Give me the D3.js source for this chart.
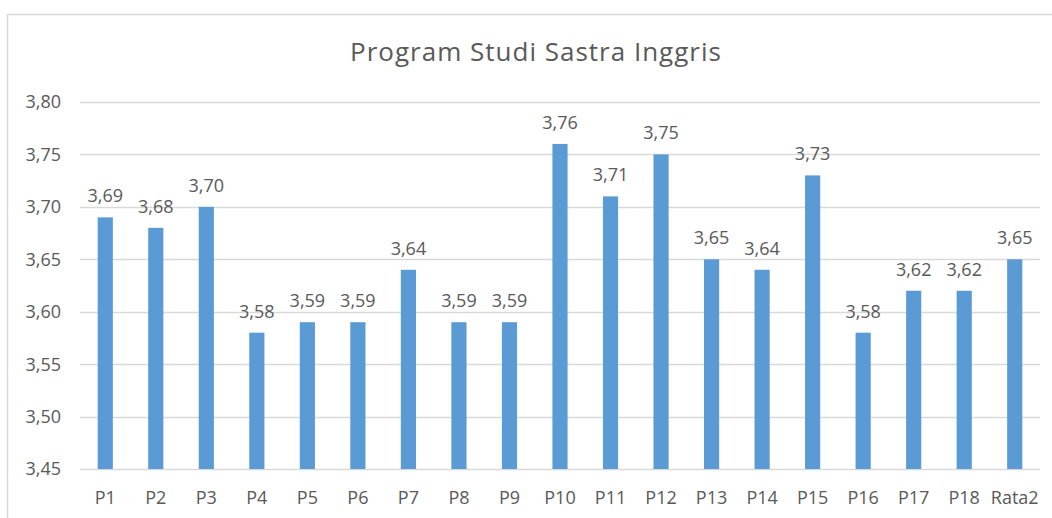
<!DOCTYPE html>
<html>
<head>
<meta charset="utf-8">
<script src="https://cdn.jsdelivr.net/npm/d3@7/dist/d3.min.js"></script>
<style>
  body { margin: 0; background: #fff; }
  text { font-family: "Open Sans", "Noto Sans", sans-serif; fill: #595959; }
</style>
</head>
<body>
<script>
// data
const categories = ["P1","P2","P3","P4","P5","P6","P7","P8","P9","P10","P11","P12","P13","P14","P15","P16","P17","P18","Rata2"];
const values = [3.69,3.68,3.70,3.58,3.59,3.59,3.64,3.59,3.59,3.76,3.71,3.75,3.65,3.64,3.73,3.58,3.62,3.62,3.65];
const yTicks = [3.45,3.50,3.55,3.60,3.65,3.70,3.75,3.80];
const title = "Program Studi Sastra Inggris";

const W = 1052, H = 518;
const margin = { top: 102, bottom: 49, left: 80, right: 12 };

const svg = d3.select("body").append("svg")
  .attr("width", W).attr("height", H);

// chart frame
svg.append("rect")
  .attr("x", 7.5).attr("y", 14.5)
  .attr("width", W + 10).attr("height", H + 10)
  .attr("fill", "none").attr("stroke", "#d9d9d9").attr("stroke-width", 1.5);

const x = d3.scaleBand().domain(categories)
  .range([margin.left, W - margin.right]).paddingInner(0.7).paddingOuter(0.35);
const y = d3.scaleLinear().domain([3.45, 3.80])
  .range([H - margin.bottom, margin.top]);

const fmt = v => d3.format(".2f")(v).replace(".", ",");

// gridlines
svg.append("g").selectAll("line").data(yTicks).join("line")
  .attr("x1", margin.left).attr("x2", W - margin.right)
  .attr("y1", d => Math.round(y(d)) + 0.5).attr("y2", d => Math.round(y(d)) + 0.5)
  .attr("stroke", "#d9d9d9").attr("stroke-width", 1.3);

// y labels
svg.append("g").selectAll("text").data(yTicks).join("text")
  .attr("x", 61).attr("y", d => y(d))
  .attr("dy", "0.36em").attr("text-anchor", "end")
  .attr("font-size", 18).text(fmt);

// bars
svg.append("g").selectAll("rect").data(values).join("rect")
  .attr("x", (d, i) => x(categories[i]))
  .attr("width", x.bandwidth())
  .attr("y", d => y(d))
  .attr("height", d => y(3.45) - y(d))
  .attr("fill", "#5b9bd5");

// value labels
svg.append("g").selectAll("text").data(values).join("text")
  .attr("x", (d, i) => x(categories[i]) + x.bandwidth() / 2)
  .attr("y", d => y(d) - 15)
  .attr("text-anchor", "middle")
  .attr("font-size", 18).text(fmt);

// x labels
svg.append("g").selectAll("text").data(categories).join("text")
  .attr("x", d => x(d) + x.bandwidth() / 2)
  .attr("y", H - margin.bottom + 35)
  .attr("text-anchor", "middle")
  .attr("font-size", 18).text(d => d);

// title
svg.append("text")
  .attr("x", 536).attr("y", 61)
  .attr("text-anchor", "middle")
  .attr("font-size", 26).attr("letter-spacing", 1)
  .text(title);
</script>
</body>
</html>
